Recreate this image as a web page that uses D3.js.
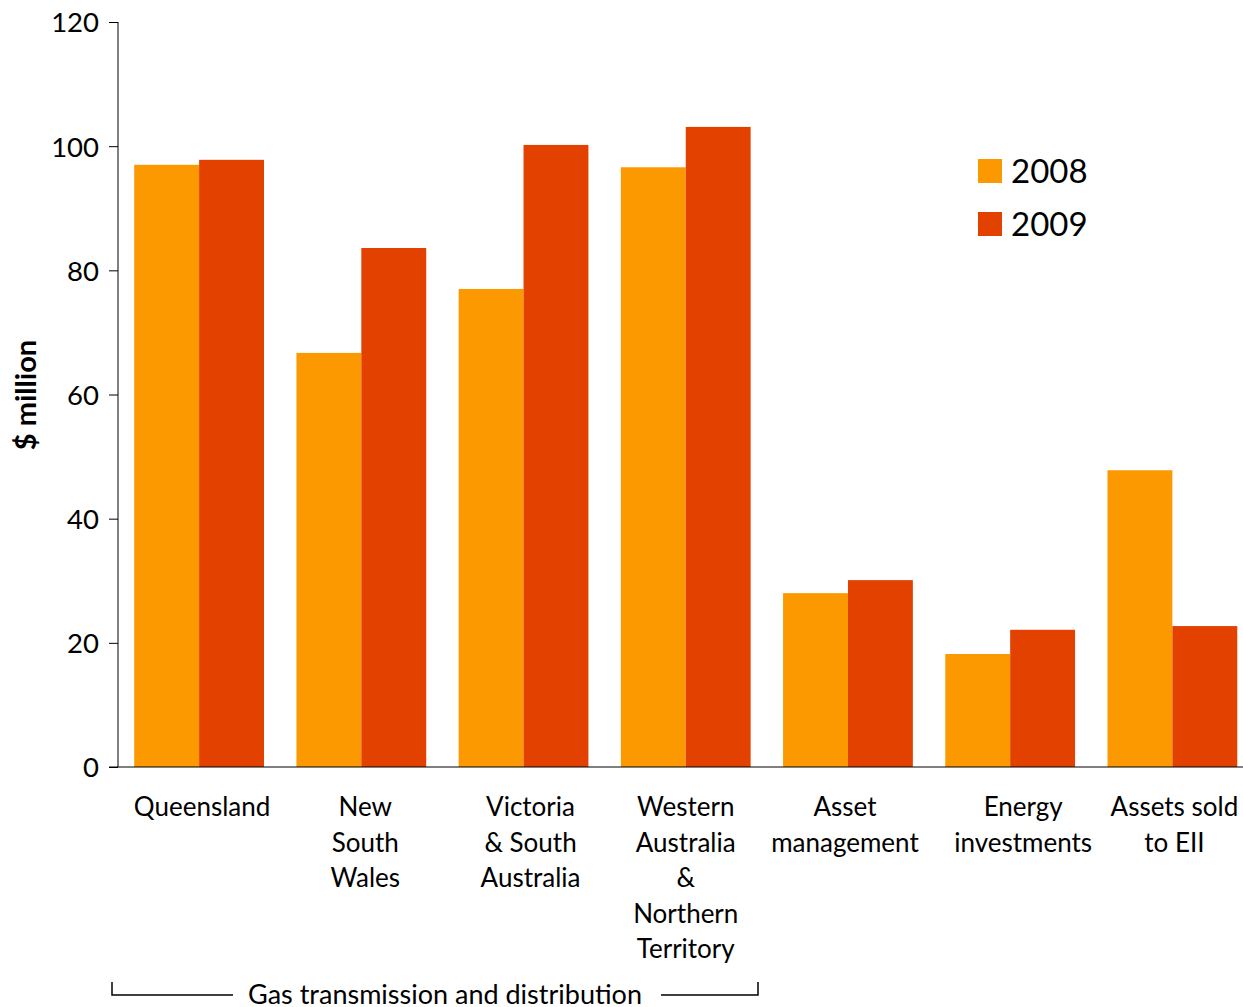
<html>
<head>
<title>Gas bar chart</title>
<script src="https://d3js.org/d3.v7.min.js"></script>
</head>
<style>
body { margin: 0; background: #fff; }
text { font-family: Lato, "Open Sans", sans-serif; fill: #000; }
</style>
<body>
<svg id="chart_svg" width="1243" height="1007"></svg>
<script>
// data
var categories = [
  ["Queensland"],
  ["New", "South", "Wales"],
  ["Victoria", "& South", "Australia"],
  ["Western", "Australia", "&", "Northern", "Territory"],
  ["Asset", "management"],
  ["Energy", "investments"],
  ["Assets sold", "to EII"]
];
var years = ["2008", "2009"];
var values2008 = [97, 66.7, 77, 96.6, 28, 18.2, 47.8];
var values2009 = [97.8, 83.6, 100.2, 103.1, 30.1, 22.1, 22.7];
var yTicks = [0, 20, 40, 60, 80, 100, 120];
var colors = ["#FC9900", "#E34100"];

// the source nudges a few labels off the group centre
var labelShift = [3, 4, 7, 0, -3, 13, 2];

var svg = d3.select("#chart_svg");

var x0 = d3.scaleBand()
  .domain(d3.range(categories.length))
  .range([118, 1253.5])
  .paddingInner(0.2)
  .paddingOuter(0.1);

var x1 = d3.scaleBand()
  .domain(years)
  .range([0, x0.bandwidth()]);

var y = d3.scaleLinear().domain([0, 120]).range([767, 22]);

var color = d3.scaleOrdinal().domain(years).range(colors);

var rows = categories.map(function(c, i) {
  return { i: i, vals: [values2008[i], values2009[i]] };
});

// bars
var groups = svg.selectAll("g.group")
  .data(rows)
  .enter().append("g")
  .attr("class", "group")
  .attr("transform", function(d) { return "translate(" + x0(d.i) + ",0)"; });

groups.selectAll("rect")
  .data(function(d) { return d.vals.map(function(v, k) { return { year: years[k], v: v }; }); })
  .enter().append("rect")
  .attr("x", function(d) { return x1(d.year); })
  .attr("y", function(d) { return y(d.v); })
  .attr("width", x1.bandwidth())
  .attr("height", function(d) { return y(0) - y(d.v); })
  .attr("fill", function(d) { return color(d.year); });

// y axis
var yAxis = svg.append("g")
  .attr("transform", "translate(118,0)")
  .call(d3.axisLeft(y).tickValues(yTicks).tickSize(9).tickPadding(10));
yAxis.select(".domain").attr("stroke", "#000").attr("d", "M0,22V767");
yAxis.selectAll("line").attr("stroke", "#000");
yAxis.selectAll("text")
  .style("font-size", "27.5px")
  .attr("dy", "0.36em");

// x axis line
svg.append("line")
  .attr("x1", 109).attr("x2", 1243)
  .attr("y1", y(0)).attr("y2", y(0))
  .attr("stroke", "#000").attr("stroke-width", 1.2);

// category labels
function labelX(i) { return x0(i) + x0.bandwidth() / 2 + labelShift[i]; }

var labels = svg.selectAll("text.cat")
  .data(rows)
  .enter().append("text")
  .attr("class", "cat")
  .attr("text-anchor", "middle")
  .style("font-size", "26px")
  .attr("x", function(d) { return labelX(d.i); })
  .attr("y", 816);

labels.selectAll("tspan")
  .data(function(d) { return categories[d.i]; })
  .enter().append("tspan")
  .attr("x", function() { return labelX(d3.select(this.parentNode).datum().i); })
  .attr("dy", function(d, k) { return k === 0 ? 0 : 35.5; })
  .text(function(d) { return d; });

// y title
svg.append("text")
  .attr("transform", "translate(36,395) rotate(-90)")
  .attr("text-anchor", "middle")
  .style("font-size", "29px")
  .style("font-weight", "bold")
  .text("$ million");

// legend
var legend = svg.selectAll("g.legend")
  .data(years)
  .enter().append("g")
  .attr("class", "legend")
  .attr("transform", function(d, i) { return "translate(978," + (159 + i * 53) + ")"; });
legend.append("rect")
  .attr("width", 24).attr("height", 24)
  .attr("fill", function(d) { return color(d); });
legend.append("text")
  .attr("x", 33).attr("y", 12)
  .attr("dy", "0.36em")
  .style("font-size", "33px")
  .text(function(d) { return d; });

// bracket under the gas groups
var bx0 = 112, bx1 = 758, by = 995;
svg.append("path")
  .attr("d", "M" + bx0 + "," + (by - 13) + "V" + by + "H233")
  .attr("fill", "none").attr("stroke", "#000").attr("stroke-width", 1.5);
svg.append("path")
  .attr("d", "M661," + by + "H" + bx1 + "V" + (by - 13))
  .attr("fill", "none").attr("stroke", "#000").attr("stroke-width", 1.5);
svg.append("text")
  .attr("x", 445).attr("y", 1004)
  .attr("text-anchor", "middle")
  .style("font-size", "27px")
  .text("Gas transmission and distribution");
</script>
</body>
</html>
